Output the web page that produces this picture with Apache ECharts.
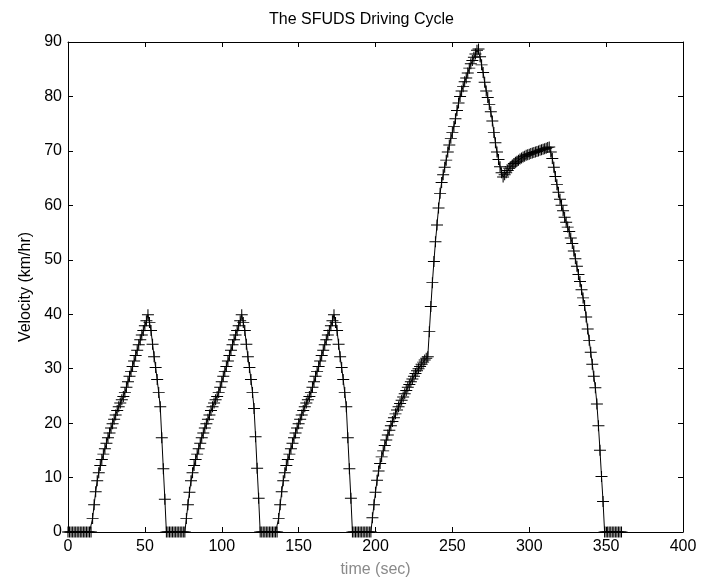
<!DOCTYPE html>
<html>
<head>
<meta charset="utf-8">
<script src="https://cdn.jsdelivr.net/npm/echarts@6/dist/echarts.min.js"></script>
<style>
html,body{margin:0;padding:0;background:#fff;}
#chart{width:707px;height:583px;}
</style>
</head>
<body>
<div id="chart"></div>
<script>
// Sample time step (seconds) — one reading per second, 0..360 s
var sampleStep = 1;

// Velocity (km/hr), phase by phase
var idleStart = [0,0,0,0,0,0,0,0,0,0,0,0,0,0,0,0];                          // t 0-15
var hill1 = [2.5,5.0,7.4,9.4,10.9,12.2,13.3,14.3,15.3,16.3,
             17.3,18.2,19.1,19.9,20.7,21.5,22.3,23.0,23.7,24.3,
             24.9,25.6,26.6,27.6,28.6,29.5,30.4,31.4,32.4,33.4,
             34.4,35.3,36.2,37.0,37.9,38.8,39.9,38.5,37.0,34.5,
             32.2,30.2,28.0,25.6,23.0,17.3,11.6,6.0];                          // t 16-63
var idle2 = [0,0,0,0,0,0,0,0,0,0,0,0,0];                                      // t 64-76
var hill2 = [2.5,5.0,7.3,9.4,10.9,12.2,13.3,14.3,15.3,16.3,
             17.3,18.2,19.1,19.9,20.7,21.5,22.3,23.0,23.7,24.3,
             24.9,25.6,26.6,27.6,28.6,29.5,30.4,31.4,32.4,33.4,
             34.4,35.3,36.2,37.0,37.9,38.8,39.9,38.5,37.0,34.5,
             32.2,30.2,28.0,25.6,22.7,17.5,11.7,6.2];                          // t 77-124
var idle3 = [0,0,0,0,0,0,0,0,0,0,0,0];                                        // t 125-136
var hill3 = [2.5,5.0,7.4,9.4,10.9,12.2,13.3,14.3,15.3,16.3,
             17.3,18.2,19.1,19.9,20.7,21.5,22.3,23.0,23.7,24.3,
             24.9,25.6,26.6,27.6,28.6,29.5,30.4,31.4,32.4,33.4,
             34.4,35.3,36.2,37.0,37.9,38.8,39.9,38.5,37.0,34.5,
             32.2,30.2,28.0,25.6,23.0,17.3,11.6,6.2];                          // t 137-184
var idle4 = [0,0,0,0,0,0,0,0,0,0,0,0,0];                                      // t 185-197
var highway = [2.6,5.0,7.3,9.5,11.2,12.6,13.8,14.9,15.9,16.9,
               17.8,18.7,19.5,20.3,21.0,21.7,22.4,23.0,23.6,24.2,
               24.8,25.4,26.0,26.6,27.1,27.6,28.1,28.6,29.1,29.6,
               30.0,30.4,30.8,31.2,31.6,31.9,32.2,36.8,41.4,45.8,
               49.7,53.3,56.4,59.5,62.2,64.2,65.6,67.0,68.3,69.8,
               71.1,72.3,73.4,74.5,75.9,77.4,78.8,80.0,81.0,81.8,
               82.7,83.4,84.3,85.2,86.0,86.6,87.2,87.8,88.5,88.7,
               87.3,85.8,84.4,82.6,81.0,79.8,78.5,77.2,75.5,73.4,
               71.5,69.8,68.4,67.1,66.0,65.2,65.6,66.0,66.4,66.8,
               67.1,67.4,67.7,67.9,68.1,68.3,68.5,68.7,68.9,69.0,
               69.2,69.3,69.4,69.5,69.6,69.7,69.8,69.9,70.0,70.1,
               70.2,70.3,70.4,70.5,70.6,70.7,69.8,68.6,67.0,65.3,
               63.8,62.4,61.1,60.0,59.0,57.8,56.9,56.0,55.2,54.0,
               53.0,51.6,50.2,48.8,47.3,46.0,44.5,43.0,41.6,39.5,
               37.3,35.2,33.0,30.8,28.6,26.5,23.5,19.5,15.0,10.2,
               5.6];                                                            // t 198-348
var idleEnd = [0,0,0,0,0,0,0,0,0,0,0,0];                                      // t 349-360

var xTicks = [0,50,100,150,200,250,300,350,400];
var yTicks = [0,10,20,30,40,50,60,70,80,90];

var velocity = [].concat(idleStart, hill1, idle2, hill2, idle3, hill3, idle4, highway, idleEnd);
var seriesData = velocity.map(function (v, i) { return [i * sampleStep, v]; });

var chart = echarts.init(document.getElementById('chart'), null, {renderer: 'canvas'});
var font = 'Liberation Sans, Arial, Helvetica, sans-serif';
var axisCommon = {
  axisLine: {show: true, onZero: false, lineStyle: {color: '#000', width: 1}},
  axisTick: {show: true, inside: true, length: 5, lineStyle: {color: '#000'}},
  splitLine: {show: false}
};
chart.setOption({
  animation: false,
  backgroundColor: '#fff',
  title: {
    text: 'The SFUDS Driving Cycle',
    left: 264, top: 7,
    textStyle: {fontFamily: font, fontSize: 16, fontWeight: 'normal', color: '#000'}
  },
  grid: {left: 68, right: 24, top: 42, bottom: 51},
  xAxis: [
    Object.assign({
      type: 'value', position: 'bottom', min: xTicks[0], max: xTicks[xTicks.length - 1],
      interval: xTicks[1] - xTicks[0],
      name: 'time (sec)', nameLocation: 'middle', nameGap: 30,
      nameTextStyle: {fontFamily: font, fontSize: 16, color: '#8a8a8a'},
      axisLabel: {fontFamily: font, fontSize: 16, color: '#000', margin: 7}
    }, axisCommon),
    Object.assign({
      type: 'value', position: 'top', min: xTicks[0], max: xTicks[xTicks.length - 1],
      interval: xTicks[1] - xTicks[0], axisLabel: {show: false}
    }, axisCommon)
  ],
  yAxis: [
    Object.assign({
      type: 'value', position: 'left', min: yTicks[0], max: yTicks[yTicks.length - 1],
      interval: yTicks[1] - yTicks[0],
      name: 'Velocity (km/hr)', nameLocation: 'middle', nameGap: 32,
      nameTextStyle: {fontFamily: font, fontSize: 16, color: '#000'},
      axisLabel: {fontFamily: font, fontSize: 16, color: '#000', margin: 6}
    }, axisCommon),
    Object.assign({
      type: 'value', position: 'right', min: yTicks[0], max: yTicks[yTicks.length - 1],
      interval: yTicks[1] - yTicks[0], axisLabel: {show: false}
    }, axisCommon)
  ],
  series: [{
    type: 'line',
    xAxisIndex: 0, yAxisIndex: 0,
    data: seriesData,
    showSymbol: true,
    symbol: 'path://M0,5L10,5M5,0L5,10',
    symbolSize: [12, 11],
    itemStyle: {color: 'rgba(0,0,0,0)', borderColor: '#000', borderWidth: 1},
    lineStyle: {color: '#000', width: 1},
    clip: false
  }]
});
</script>
</body>
</html>
